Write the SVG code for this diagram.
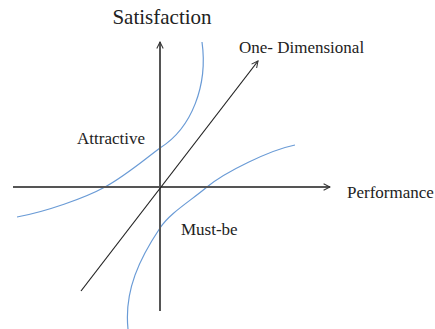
<svg xmlns="http://www.w3.org/2000/svg" width="435" height="329" viewBox="0 0 435 329">
<style>
.lbl{font-family:"Liberation Serif","Times New Roman",serif;font-size:17px;fill:#222}
.axis{stroke:#555;stroke-width:2;fill:none}
.diag{stroke:#222;stroke-width:1.2;fill:none}
.curve{stroke:#6a9bd6;stroke-width:1.2;fill:none}
</style>
<defs>
<marker id="arr2" viewBox="0 0 10 10" refX="9" refY="5" markerWidth="8" markerHeight="8" orient="auto" markerUnits="userSpaceOnUse">
<path d="M1,1 L9,5 L1,9" fill="none" stroke="#333" stroke-width="1.3"/>
</marker>
</defs>
<rect width="435" height="329" fill="#fff"/>
<g id="connectors">
<path class="curve" d="M202,42 C208,85 192,128 160,148 C140,163 125,176 105,187 S45,212 17,217"/>
<path class="curve" d="M295,145 C270,150 225,172 207,187 S170,213 160,228 C140,258 124,290 128,329"/>
<line class="axis" x1="160" y1="311" x2="160" y2="42" marker-end="url(#arr2)"/>
<line class="axis" x1="13" y1="187" x2="330" y2="187" marker-end="url(#arr2)"/>
<line class="diag" x1="81" y1="291" x2="258" y2="61" marker-end="url(#arr2)"/>
</g>
<g id="satisfaction"><text class="lbl" x="162" y="24" text-anchor="middle" style="font-size:21px">Satisfaction</text></g>
<g id="one-dimensional"><text class="lbl" x="239" y="53">One- Dimensional</text></g>
<g id="attractive"><text class="lbl" x="77" y="144">Attractive</text></g>
<g id="performance"><text class="lbl" x="347" y="198">Performance</text></g>
<g id="must-be"><text class="lbl" x="181" y="235">Must-be</text></g>
</svg>
